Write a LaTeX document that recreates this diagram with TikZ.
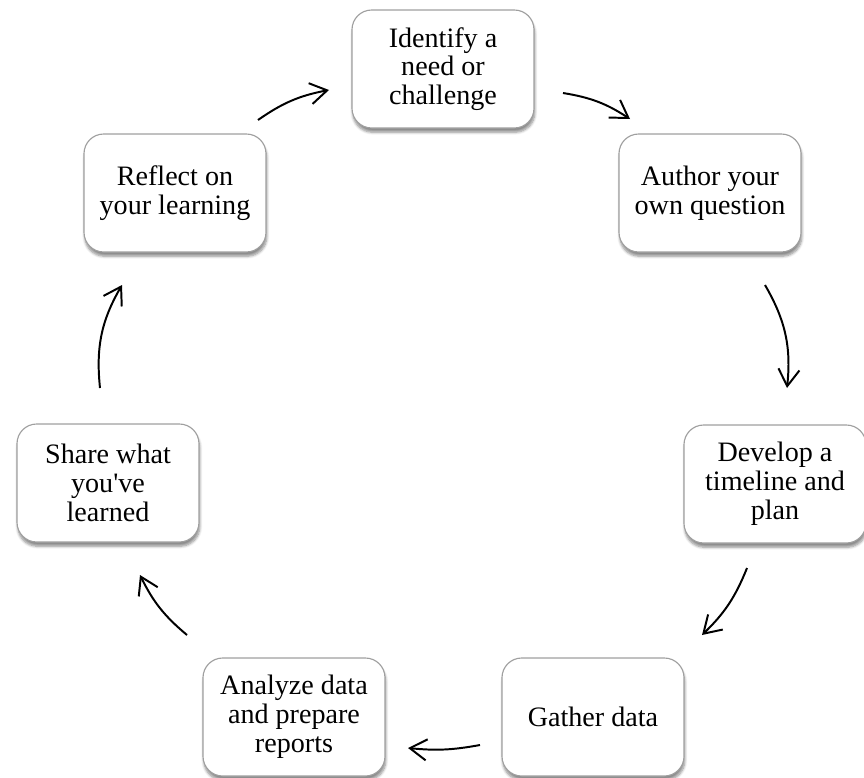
\documentclass[tikz,border=0pt]{standalone}
\usepackage{fontspec}
\setmainfont{Liberation Serif}
\usetikzlibrary{arrows.meta,shadows.blur}

\begin{document}
\begin{tikzpicture}[
  stage/.style={draw=gray!75, line width=0.8pt, fill=white, rounded corners=14pt,
    minimum width=4.55cm, minimum height=2.95cm, align=center,
    font=\fontsize{20}{20.5}\selectfont,
    blur shadow={shadow xshift=0.6pt, shadow yshift=-3pt, shadow blur steps=6, shadow opacity=45}},
  cyc/.style={-{Straight Barb[length=12pt,width=15pt]}, line width=1.4pt, bend left=12}]
                    \useasboundingbox (0,0) rectangle (21.6,-19.425);

                    \node[stage] (need) at (11.075,-1.725) {Identify a\\need or\\challenge};
                    \node[stage] (author) at (17.75,-4.825) {Author your\\own question};
                    \node[stage] (plan) at (19.375,-12.1) {Develop a\\timeline and\\plan};
                    \node[stage] (gather) at (14.825,-17.925) {Gather data};
                    \node[stage] (analyze) at (7.35,-17.925) {Analyze data\\and prepare\\reports};
                    \node[stage] (share) at (2.7,-12.075) {Share what\\you\textquotesingle ve\\learned};
                    \node[stage] (reflect) at (4.375,-4.825) {Reflect on\\your learning};

                    \coordinate (c1s) at (14.075,-2.325);  \coordinate (c1e) at (15.75,-2.975);
                    \coordinate (c2s) at (19.125,-7.125);  \coordinate (c2e) at (19.675,-9.7);
                    \coordinate (c3s) at (18.675,-14.2);   \coordinate (c3e) at (17.55,-15.875);
                    \coordinate (c4s) at (12.0,-18.625);   \coordinate (c4e) at (10.2,-18.7);
                    \coordinate (c5s) at (4.675,-15.875);  \coordinate (c5e) at (3.5,-14.375);
                    \coordinate (c6s) at (2.5,-9.7);       \coordinate (c6e) at (3.05,-7.125);
                    \coordinate (c7s) at (6.45,-3.0);      \coordinate (c7e) at (8.225,-2.25);

                    \draw[cyc] (c1s) to (c1e);
                    \draw[cyc, bend left=18] (c2s) to (c2e);
                    \draw[cyc] (c3s) to (c3e);
                    \draw[cyc, bend left=8] (c4s) to (c4e);
                    \draw[cyc] (c5s) to (c5e);
                    \draw[cyc, bend left=18] (c6s) to (c6e);
                    \draw[cyc] (c7s) to (c7e);
                 \end{tikzpicture}
\end{document}
